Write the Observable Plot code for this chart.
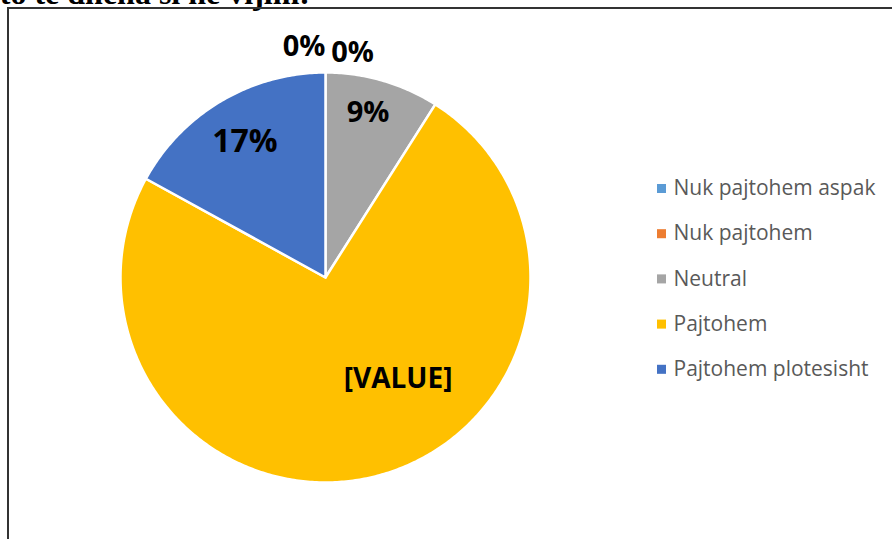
<!DOCTYPE html>
<html>
<head>
<meta charset="utf-8">
<script src="https://cdn.jsdelivr.net/npm/d3@7"></script>
<script src="https://cdn.jsdelivr.net/npm/@observablehq/plot@0.6"></script>
<style>
  html, body { margin: 0; padding: 0; background: #fff; }
  body { position: relative; width: 892px; height: 539px; overflow: hidden; }
  #title { position: absolute; right: 582px; top: -23px; font: bold 32px "Liberation Serif", serif; line-height: 32px; white-space: nowrap; color: #000; }
  #frame { position: absolute; left: 7px; top: 7px; width: 1000px; height: 1000px; border: 2px solid #333; box-sizing: border-box; }
  #chart { position: absolute; left: 0; top: 0; }
</style>
</head>
<body>
<div id="title">këto të dhëna si në vijim:</div>
<div id="frame"></div>
<div id="chart"></div>
<script>
// ---- data ----
const categories = ["Nuk pajtohem aspak", "Nuk pajtohem", "Neutral", "Pajtohem", "Pajtohem plotesisht"];
const values = [0, 0, 9, 74, 17];
const labels = ["0%", "0%", "9%", "[VALUE]", "17%"];
const colors = ["#5B9BD5", "#ED7D31", "#A5A5A5", "#FFC000", "#4472C4"];

// ---- layout ----
const W = 892, H = 539;
const cx = 325, cy = 277, R = 205;
const labelPolar = [[-5.3, 232], [6.9, 226], [14.5, 170], [144.5, 125], [-30.7, 158]]; // [deg, radius]
const labelSize = [29, 29, 29, 28, 32];
const legendSquareX = 661, legendTextX = 673, legendY0 = 188, legendDY = 45.2;

const rows = categories.map((c, i) => ({category: c, value: values[i], label: labels[i], i}));
const arcs = d3.pie().sort(null).value(d => d.value).startAngle(0).endAngle(2 * Math.PI)(rows);

const features = arcs.filter(a => a.value > 0).map(a => {
  const n = Math.max(2, Math.ceil((a.endAngle - a.startAngle) * 90));
  const pts = [[cx, cy]];
  for (let k = 0; k <= n; k++) {
    const t = a.startAngle + (a.endAngle - a.startAngle) * k / n;
    pts.push([cx + R * Math.sin(t), cy - R * Math.cos(t)]);
  }
  pts.push([cx, cy]);
  return {type: "Feature", properties: {category: a.data.category}, geometry: {type: "Polygon", coordinates: [pts]}};
});

const labelRows = rows.map((d, i) => {
  const ang = labelPolar[i][0] * Math.PI / 180, r = labelPolar[i][1];
  return {label: d.label, x: cx + r * Math.sin(ang), y: cy - r * Math.cos(ang), size: labelSize[i]};
});

const legendRows = rows.map((d, i) => ({category: d.category, y: legendY0 + i * legendDY}));

const chart = Plot.plot({
  width: W, height: H, margin: 0,
  projection: {type: "identity", domain: {type: "Polygon", coordinates: [[[0, 0], [W, 0], [W, H], [0, H], [0, 0]]]}},
  color: {domain: categories, range: colors},
  style: {background: "transparent", overflow: "visible"},
  marks: [
    Plot.geo(features, {fill: d => d.properties.category, stroke: "white", strokeWidth: 2.5, strokeLinejoin: "round"}),
    Plot.text(labelRows, {x: "x", y: "y", text: "label", fontSize: "size", fontWeight: "bold", fill: "#000", fontFamily: "Open Sans"}),
    Plot.dot(legendRows, {x: () => legendSquareX, y: "y", symbol: "square", r: 5.1, fill: "category"}),
    Plot.text(legendRows, {x: () => legendTextX, y: "y", text: "category", textAnchor: "start", fill: "#595959", fontSize: 21, fontFamily: "Open Sans"})
  ]
});
document.getElementById("chart").appendChild(chart);
</script>
</body>
</html>
